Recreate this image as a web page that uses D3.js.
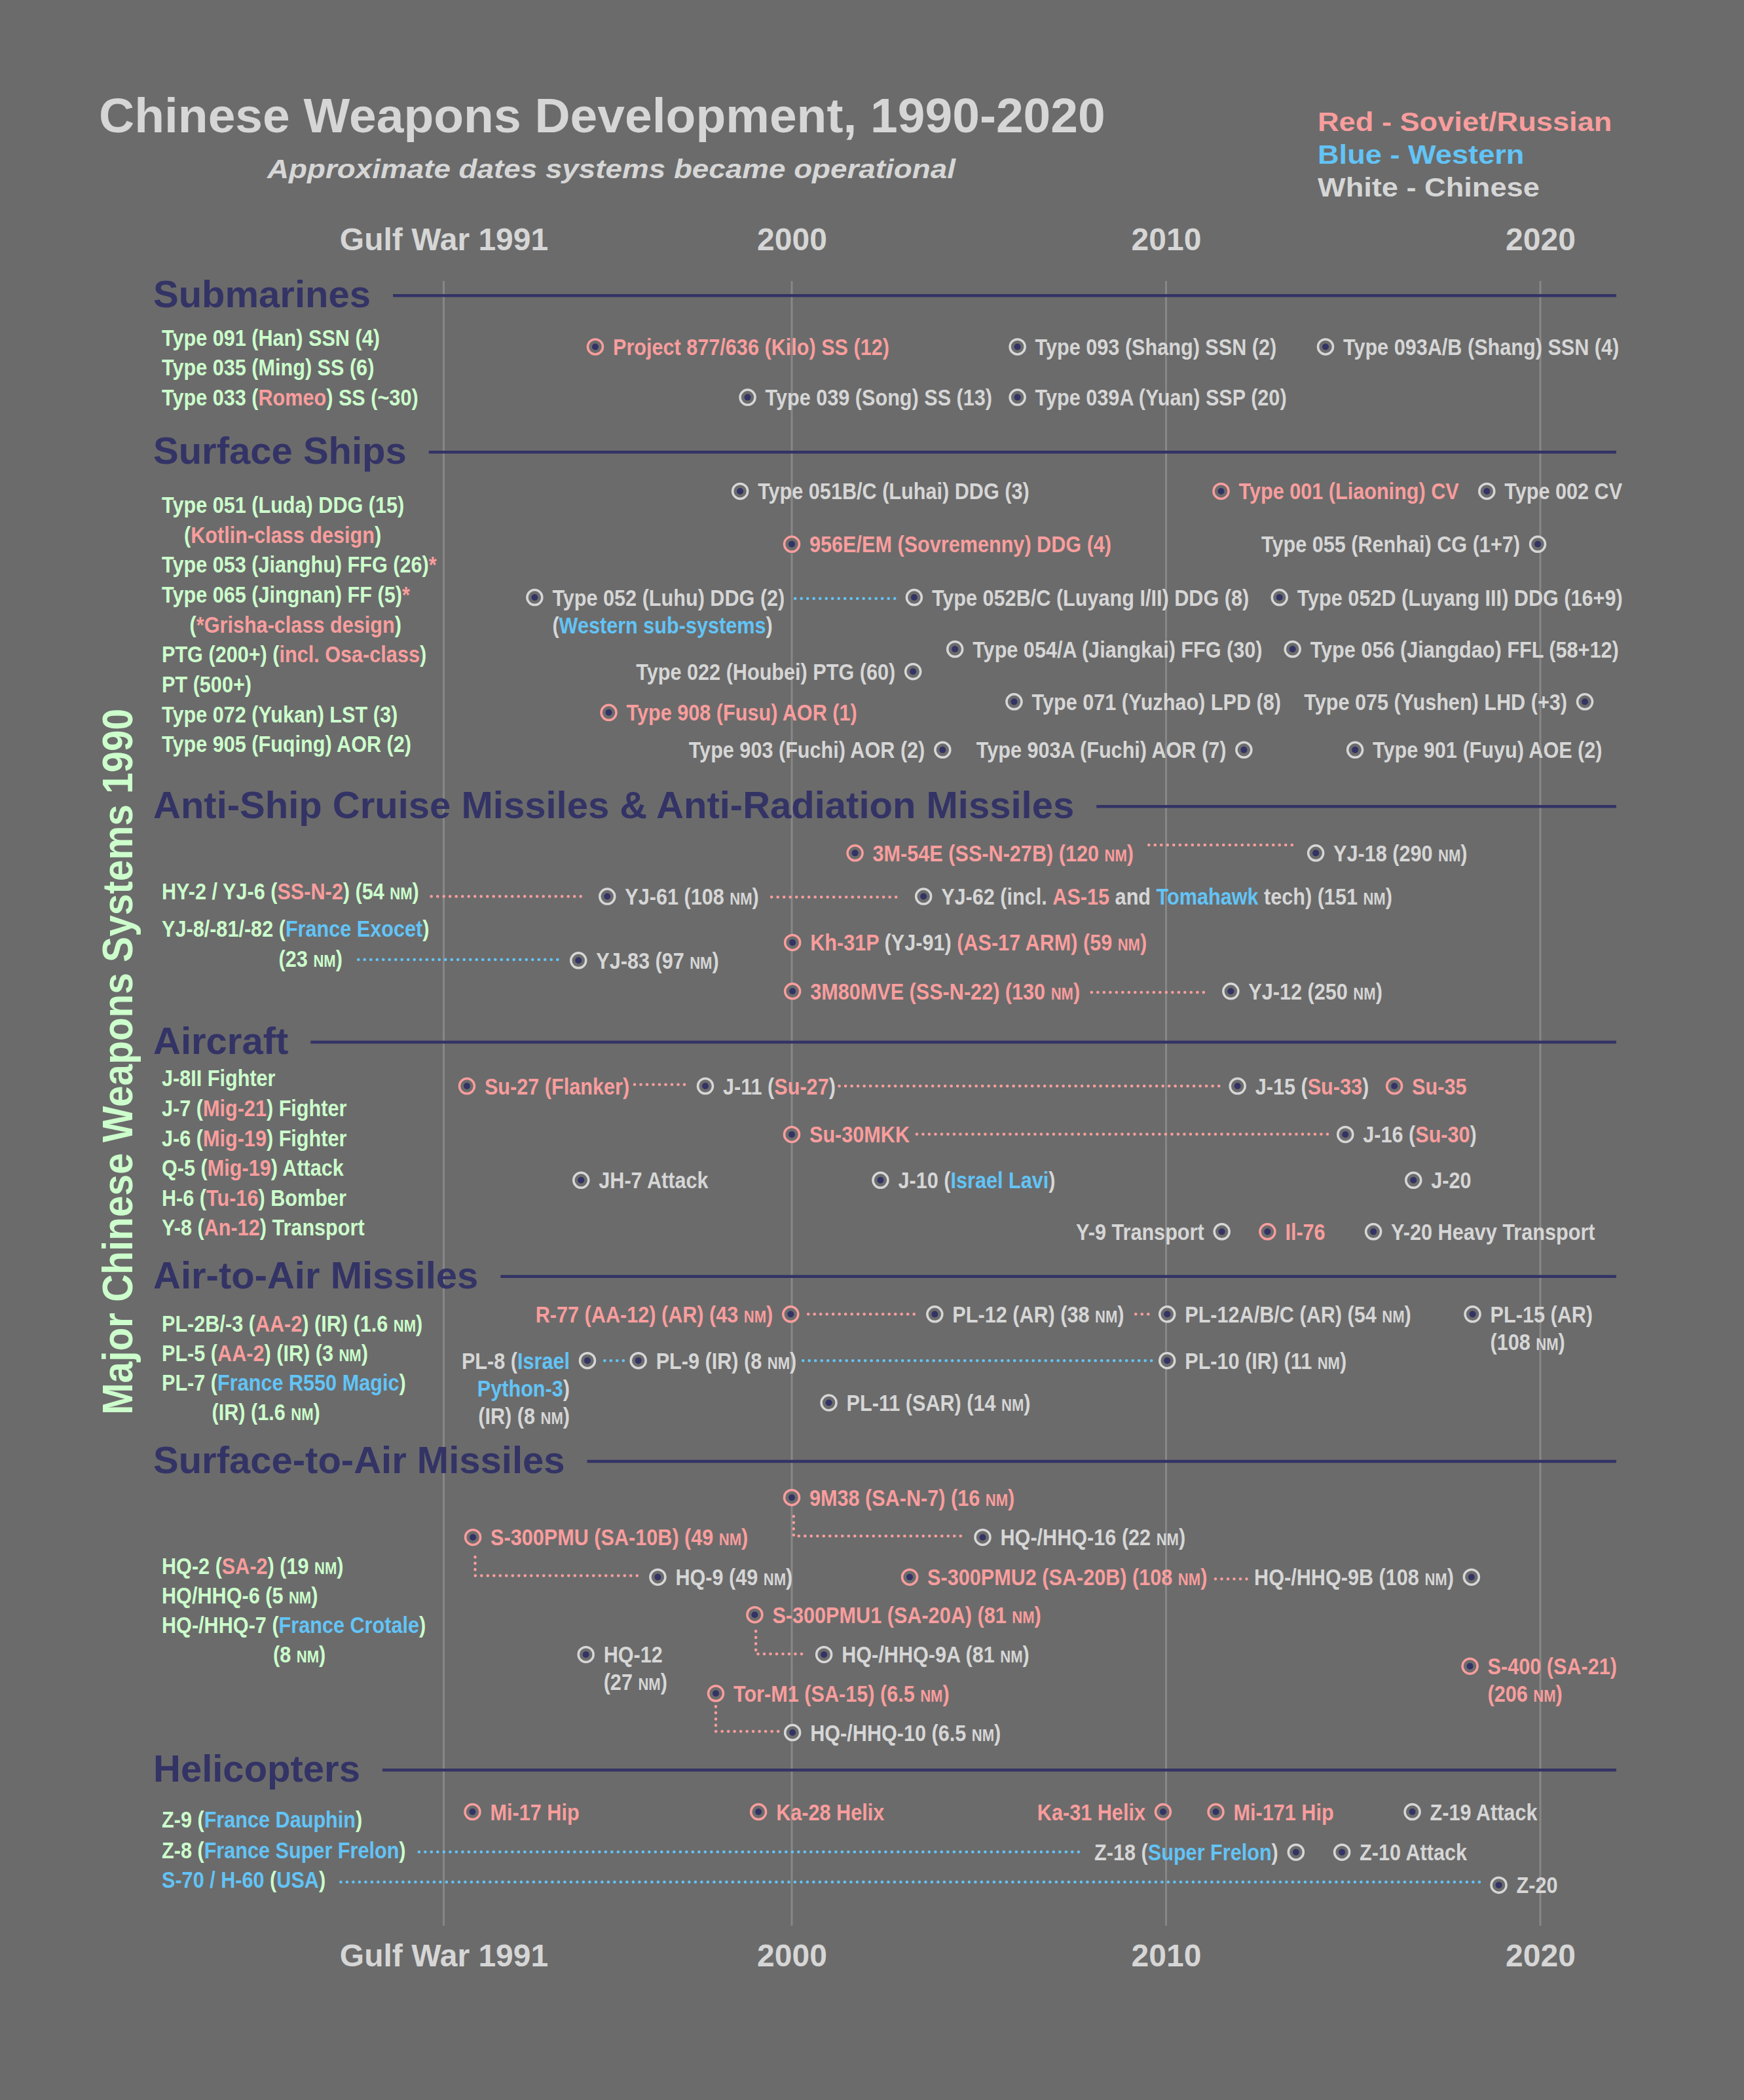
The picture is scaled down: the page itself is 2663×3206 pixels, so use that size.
<!DOCTYPE html>
<html><head><meta charset="utf-8">
<script src="https://cdn.jsdelivr.net/npm/d3@7"></script>
<style>
html,body{margin:0;padding:0;background:#6b6b6b;}
svg{display:block;}
text{font-family:"Liberation Sans",Arial,Helvetica,sans-serif;font-weight:bold;}
</style></head><body>
<svg id="chart" width="2663" height="3206"></svg>
<script>
// ---------------- DATA ----------------
const tickYears = [1990.7, 2000, 2010, 2020];
const tickLabels = ["Gulf War 1991", "2000", "2010", "2020"];

const sections = ["Submarines", "Surface Ships", "Anti-Ship Cruise Missiles & Anti-Radiation Missiles",
  "Aircraft", "Air-to-Air Missiles", "Surface-to-Air Missiles", "Helicopters"];
const sectionLanes = [0.49, 5.72, 17.57, 25.45, 33.29, 39.47, 49.79];

const legendItems = [["Red - Soviet/Russian", "R"], ["Blue - Western", "B"], ["White - Chinese", "W"]];

// systems in service in 1990 (left column): [label, lane]
const inventory1990 = [
  ["Type 091 (Han) SSN (4)", 1.89],
  ["Type 035 (Ming) SS (6)", 2.89],
  ["Type 033 ({R|Romeo}) SS (~30)", 3.89],
  ["Type 051 (Luda) DDG (15)", 7.48],
  ["    ({R|Kotlin-class design})", 8.48],
  ["Type 053 (Jianghu) FFG (26){R|*}", 9.48],
  ["Type 065 (Jingnan) FF (5){R|*}", 10.48],
  ["     ({R|*Grisha-class design})", 11.48],
  ["PTG (200+) ({R|incl. Osa-class})", 12.48],
  ["PT (500+)", 13.48],
  ["Type 072 (Yukan) LST (3)", 14.48],
  ["Type 905 (Fuqing) AOR (2)", 15.48],
  ["HY-2 / YJ-6 ({R|SS-N-2}) (54 NM)", 20.41],
  ["YJ-8/-81/-82 ({B|France Exocet})", 21.65],
  ["                     (23 NM)", 22.67],
  ["J-8II Fighter", 26.65],
  ["J-7 ({R|Mig-21}) Fighter", 27.65],
  ["J-6 ({R|Mig-19}) Fighter", 28.65],
  ["Q-5 ({R|Mig-19}) Attack", 29.65],
  ["H-6 ({R|Tu-16}) Bomber", 30.65],
  ["Y-8 ({R|An-12}) Transport", 31.65],
  ["PL-2B/-3 ({R|AA-2}) (IR) (1.6 NM)", 34.86],
  ["PL-5 ({R|AA-2}) (IR) (3 NM)", 35.85],
  ["PL-7 ({B|France R550 Magic})", 36.83],
  ["         (IR) (1.6 NM)", 37.82],
  ["HQ-2 ({R|SA-2}) (19 NM)", 42.97],
  ["HQ/HHQ-6 (5 NM)", 43.95],
  ["HQ-/HHQ-7 ({B|France Crotale})", 44.94],
  ["                    (8 NM)", 45.93],
  ["Z-9 ({B|France Dauphin})", 51.45],
  ["Z-8 ({B|France Super Frelon})", 52.46],
  ["{B|S-70 / H-60} ({B|USA})", 53.45]
];

// new systems: [label, year operational, lane, label side, origin]
const systems = [
  ["Project 877/636 (Kilo) SS (12)", 1994.75, 2.20, "r", "R"],
  ["Type 039 (Song) SS (13)", 1998.82, 3.89, "r", "W"],
  ["Type 093 (Shang) SSN (2)", 2006.03, 2.20, "r", "W"],
  ["Type 093A/B (Shang) SSN (4)", 2014.26, 2.20, "r", "W"],
  ["Type 039A (Yuan) SSP (20)", 2006.03, 3.89, "r", "W"],

  ["Type 051B/C (Luhai) DDG (3)", 1998.62, 7.03, "r", "W"],
  ["956E/EM (Sovremenny) DDG (4)", 2000.00, 8.80, "r", "R"],
  ["Type 052 (Luhu) DDG (2)\n({B|Western sub-systems})", 1993.13, 10.58, "r", "W"],
  ["Type 052B/C (Luyang I/II) DDG (8)", 2003.27, 10.58, "r", "W"],
  ["Type 001 (Liaoning) CV", 2011.47, 7.03, "r", "R"],
  ["Type 002 CV", 2018.57, 7.03, "r", "W"],
  ["Type 055 (Renhai) CG (1+7)", 2019.93, 8.80, "l", "W"],
  ["Type 052D (Luyang III) DDG (16+9)", 2013.03, 10.58, "r", "W"],
  ["Type 054/A (Jiangkai) FFG (30)", 2004.36, 12.31, "r", "W"],
  ["Type 056 (Jiangdao) FFL (58+12)", 2013.38, 12.31, "r", "W"],
  ["Type 022 (Houbei) PTG (60)", 2003.24, 13.06, "l", "W"],
  ["Type 908 (Fusu) AOR (1)", 1995.11, 14.43, "r", "R"],
  ["Type 071 (Yuzhao) LPD (8)", 2005.94, 14.07, "r", "W"],
  ["Type 075 (Yushen) LHD (+3)", 2021.19, 14.07, "l", "W"],
  ["Type 903 (Fuchi) AOR (2)", 2004.03, 15.68, "l", "W"],
  ["Type 903A (Fuchi) AOR (7)", 2012.08, 15.68, "l", "W"],
  ["Type 901 (Fuyu) AOE (2)", 2015.05, 15.68, "r", "W"],

  ["3M-54E (SS-N-27B) (120 NM)", 2001.69, 19.13, "r", "R"],
  ["YJ-18 (290 NM)", 2014.00, 19.13, "r", "W"],
  ["YJ-61 (108 NM)", 1995.07, 20.58, "r", "W"],
  ["YJ-62 (incl. {R|AS-15} and {B|Tomahawk} tech) (151 NM)", 2003.52, 20.58, "r", "W"],
  ["YJ-83 (97 NM)", 1994.30, 22.72, "r", "W"],
  ["Kh-31P {W|(YJ-91)} (AS-17 ARM) (59 NM)", 2000.02, 22.12, "r", "R"],
  ["3M80MVE (SS-N-22) (130 NM)", 2000.02, 23.75, "r", "R"],
  ["YJ-12 (250 NM)", 2011.73, 23.75, "r", "W"],

  ["Su-27 (Flanker)", 1991.32, 26.92, "r", "R"],
  ["J-11 ({R|Su-27})", 1997.69, 26.92, "r", "W"],
  ["J-15 ({R|Su-33})", 2011.91, 26.92, "r", "W"],
  ["Su-35", 2016.10, 26.92, "r", "R"],
  ["Su-30MKK", 2000.00, 28.54, "r", "R"],
  ["J-16 ({R|Su-30})", 2014.79, 28.54, "r", "W"],
  ["JH-7 Attack", 1994.37, 30.07, "r", "W"],
  ["J-10 ({B|Israel Lavi})", 2002.37, 30.07, "r", "W"],
  ["J-20", 2016.61, 30.07, "r", "W"],
  ["Y-9 Transport", 2011.49, 31.79, "l", "W"],
  ["Il-76", 2012.71, 31.79, "r", "R"],
  ["Y-20 Heavy Transport", 2015.54, 31.79, "r", "W"],

  ["R-77 (AA-12) (AR) (43 NM)", 1999.97, 34.55, "l", "R"],
  ["PL-12 (AR) (38 NM)", 2003.82, 34.55, "r", "W"],
  ["PL-12A/B/C (AR) (54 NM)", 2010.03, 34.55, "r", "W"],
  ["PL-15 (AR)\n(108 NM)", 2018.19, 34.55, "r", "W"],
  ["PL-8 ({B|Israel}\n{B|Python-3})\n(IR) (8 NM)", 1994.54, 36.10, "l", "W"],
  ["PL-9 (IR) (8 NM)", 1995.90, 36.10, "r", "W"],
  ["PL-10 (IR) (11 NM)", 2010.03, 36.10, "r", "W"],
  ["PL-11 (SAR) (14 NM)", 2000.99, 37.51, "r", "W"],

  ["9M38 (SA-N-7) (16 NM)", 2000.00, 40.68, "r", "R"],
  ["HQ-/HHQ-16 (22 NM)", 2005.10, 42.01, "r", "W"],
  ["S-300PMU (SA-10B) (49 NM)", 1991.48, 42.01, "r", "R"],
  ["HQ-9 (49 NM)", 1996.42, 43.34, "r", "W"],
  ["S-300PMU2 (SA-20B) (108 NM)", 2003.15, 43.34, "r", "R"],
  ["HQ-/HHQ-9B (108 NM)", 2018.16, 43.34, "l", "W"],
  ["S-300PMU1 (SA-20A) (81 NM)", 1999.01, 44.60, "r", "R"],
  ["HQ-/HHQ-9A (81 NM)", 2000.86, 45.93, "r", "W"],
  ["HQ-12\n(27 NM)", 1994.50, 45.93, "r", "W"],
  ["Tor-M1 (SA-15) (6.5 NM)", 1997.97, 47.23, "r", "R"],
  ["HQ-/HHQ-10 (6.5 NM)", 2000.02, 48.54, "r", "W"],
  ["S-400 (SA-21)\n(206 NM)", 2018.12, 46.32, "r", "R"],

  ["Mi-17 Hip", 1991.47, 51.19, "r", "R"],
  ["Ka-28 Helix", 1999.11, 51.19, "r", "R"],
  ["Ka-31 Helix", 2009.92, 51.19, "l", "R"],
  ["Mi-171 Hip", 2011.33, 51.19, "r", "R"],
  ["Z-19 Attack", 2016.58, 51.19, "r", "W"],
  ["Z-18 ({B|Super Frelon})", 2013.47, 52.54, "l", "W"],
  ["Z-10 Attack", 2014.70, 52.54, "r", "W"],
  ["Z-20", 2018.89, 53.64, "r", "W"]
];

// derivation links: [from year, to year, lane, origin]
const links = [
  [2000.09, 2002.81, 10.62, "B"],
  [2009.54, 2013.52, 18.86, "R"],
  [1990.37, 1994.51, 20.58, "R"],
  [1999.46, 2002.88, 20.60, "R"],
  [1988.42, 1993.77, 22.69, "B"],
  [2008.01, 2011.08, 23.79, "R"],
  [1995.80, 1997.23, 26.87, "R"],
  [2001.27, 2011.43, 26.92, "R"],
  [2003.34, 2014.35, 28.53, "R"],
  [2000.44, 2003.34, 34.55, "R"],
  [2009.19, 2009.61, 34.55, "R"],
  [1995.00, 1995.56, 36.10, "B"],
  [2000.30, 2009.61, 36.10, "B"],
  [2011.32, 2012.16, 43.40, "R"],
  [1990.04, 2007.80, 52.53, "B"],
  [1987.95, 2018.40, 53.54, "B"]
];
// elbow links: [year, lane from, lane to, year to, origin]
const elbowLinks = [
  [2000.05, 41.31, 41.97, 2004.58, "R"],
  [1991.54, 42.67, 43.29, 1995.98, "R"],
  [1999.04, 45.15, 45.91, 2000.30, "R"],
  [1997.97, 47.67, 48.50, 1999.74, "R"]
];

// ---------------- DRAW ----------------
const W = 2663, H = 3206;
const BG = "#6b6b6b", NAVY = "#333366", GRID = "#878787";
const svg = d3.select("#chart");
svg.append("rect").attr("width", W).attr("height", H).attr("fill", BG);

const x = d3.scaleLinear().domain([2000, 2010]).range([1209, 1780.5]);
const y = d3.scaleLinear().domain([0, 55]).range([429, 2940]);
const color = d3.scaleOrdinal().domain(["W", "R", "B", "G"])
  .range(["#d6d6d6", "#f99d9d", "#62c4f7", "#ccffcc"]);

const LABEL_FS = 35, SX = 0.875, GAP = 27, LINE_H = 42, BASE_OFF = 12.5;

function parseLine(str, base) {
  str = str.replace(/^ +/, m => "\u00A0".repeat(m.length));
  const segs = []; const re = /\{([RBWG])\|([^}]*)\}/g; let last = 0, m;
  while ((m = re.exec(str))) {
    if (m.index > last) segs.push([str.slice(last, m.index), base]);
    segs.push([m[2], m[1]]); last = re.lastIndex;
  }
  if (last < str.length) segs.push([str.slice(last), base]);
  return segs;
}
function fillText(t, segs) {
  segs.forEach(([s, c]) => {
    s.split(/(NM)/).forEach(p => {
      if (!p) return;
      const ts = t.append("tspan").attr("fill", color(c)).text(p);
      if (p === "NM") ts.attr("font-size", "0.72em");
    });
  });
}
function label(g, str, base, tx, ty, anchor) {
  const t = g.append("text")
    .attr("transform", `translate(${tx},${ty}) scale(${SX},1)`)
    .attr("text-anchor", anchor).attr("font-size", LABEL_FS);
  fillText(t, parseLine(str, base));
  return t;
}

// gridlines
svg.append("g").selectAll("line").data(tickYears).join("line")
  .attr("x1", d => x(d)).attr("x2", d => x(d))
  .attr("y1", y(0)).attr("y2", y(55))
  .attr("stroke", GRID).attr("stroke-width", 3);

// axes
function styleAxis(g) {
  g.select(".domain").remove();
  g.selectAll("text").attr("fill", "#d6d6d6").attr("font-size", 48);
}
svg.append("g").attr("transform", "translate(0,382)")
  .call(d3.axisTop(x).tickValues(tickYears).tickFormat((d, i) => tickLabels[i]).tickSize(0).tickPadding(0))
  .call(styleAxis);
svg.append("g").attr("transform", "translate(0,2968)")
  .call(d3.axisBottom(x).tickValues(tickYears).tickFormat((d, i) => tickLabels[i]).tickSize(0).tickPadding(0))
  .call(styleAxis);

// title / subtitle / legend
svg.append("text").attr("x", 151).attr("y", 202).attr("font-size", 75).attr("fill", "#d6d6d6")
  .text("Chinese Weapons Development, 1990-2020");
svg.append("text").attr("transform", "translate(408,272) scale(1.145,1)")
  .attr("font-size", 40).attr("font-style", "italic").attr("fill", "#d6d6d6")
  .text("Approximate dates systems became operational");
svg.append("g").selectAll("text").data(legendItems).join("text")
  .attr("transform", (d, i) => `translate(2012,${200 + i * 50}) scale(1.13,1)`)
  .attr("font-size", 40).attr("fill", d => color(d[1])).text(d => d[0]);

// vertical label
svg.append("text").attr("transform", "translate(202,1621) rotate(-90) scale(0.9,1)")
  .attr("text-anchor", "middle").attr("font-size", 65).attr("fill", color("G"))
  .text("Major Chinese Weapons Systems 1990");

// section headings
const hg = svg.append("g");
sections.forEach((s, i) => {
  const ly = y(sectionLanes[i]);
  const t = hg.append("text").attr("x", 234).attr("y", ly + 18).attr("font-size", 58).attr("fill", NAVY).text(s);
  const w = t.node().getComputedTextLength();
  hg.append("line").attr("x1", 234 + w + 34).attr("x2", 2468).attr("y1", ly).attr("y2", ly)
    .attr("stroke", NAVY).attr("stroke-width", 4.5);
});

// left column inventory
const lg = svg.append("g");
inventory1990.forEach(([s, lane]) => label(lg, s, "G", 247, y(lane) + BASE_OFF, "start"));

// dotted links
const dot = sel => sel.attr("fill", "none").attr("stroke-width", 4.5)
  .attr("stroke-dasharray", "0.1 9.4").attr("stroke-linecap", "round");
svg.append("g").selectAll("line").data(links).join("line")
  .attr("x1", d => x(d[0])).attr("x2", d => x(d[1]))
  .attr("y1", d => y(d[2])).attr("y2", d => y(d[2]))
  .attr("stroke", d => color(d[3])).call(dot);
svg.append("g").selectAll("path").data(elbowLinks).join("path")
  .attr("d", d => `M${x(d[0])},${y(d[1])}V${y(d[2])}H${x(d[3])}`)
  .attr("stroke", d => color(d[4])).call(dot);

// systems
const sg = svg.append("g");
systems.forEach(([s, yr, lane, side, org]) => {
  const cx = x(yr), cy = y(lane);
  sg.append("circle").attr("cx", cx).attr("cy", cy).attr("r", 11.5)
    .attr("fill", BG).attr("stroke", color(org)).attr("stroke-width", 3.5);
  sg.append("circle").attr("cx", cx).attr("cy", cy).attr("r", 5).attr("fill", NAVY);
  s.split("\n").forEach((line, i) => {
    const tx = side === "r" ? cx + GAP : cx - GAP;
    label(sg, line, org, tx, cy + BASE_OFF + i * LINE_H, side === "r" ? "start" : "end");
  });
});
</script>
</body></html>
